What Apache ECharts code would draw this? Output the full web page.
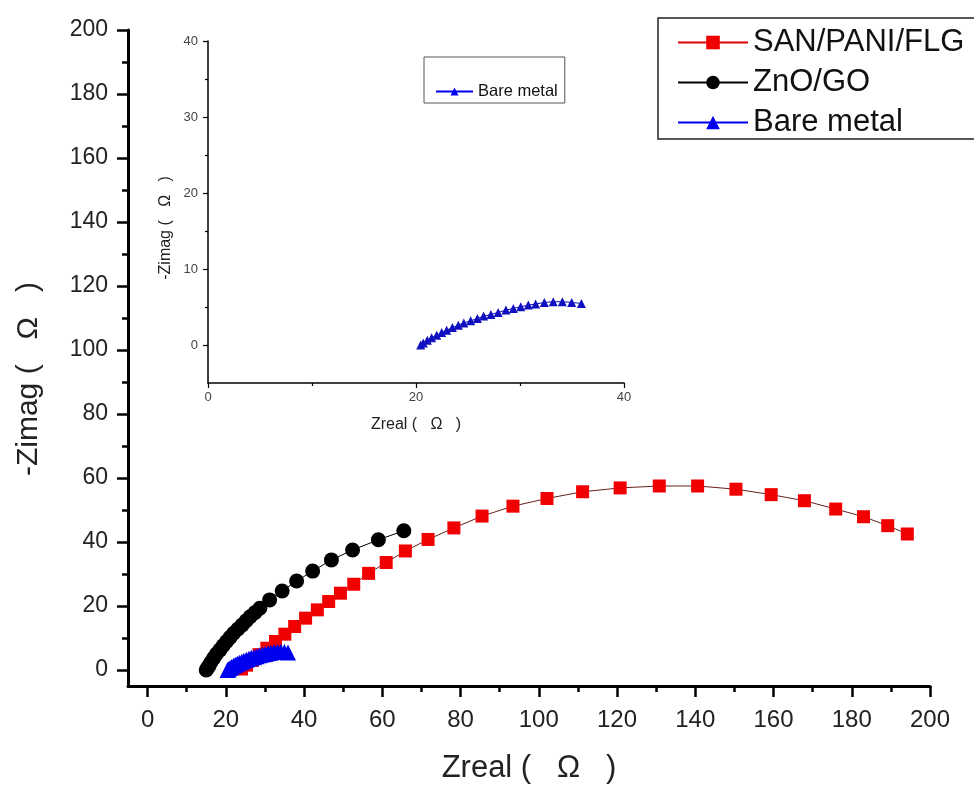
<!DOCTYPE html>
<html>
<head>
<meta charset="utf-8">
<script src="https://cdn.jsdelivr.net/npm/echarts@6/dist/echarts.min.js"></script>
<style>
  html, body { margin: 0; padding: 0; background: #fff; }
  #chart { width: 974px; height: 789px; }
</style>
</head>
<body>
<div id="chart"></div>
<script>
// SAN/PANI/FLG (red squares)
var sanZreal = [24.0, 25.3, 26.8, 28.5, 30.5, 32.7, 35.1, 37.6, 40.4, 43.4, 46.3, 49.3, 52.7, 56.5, 61.0, 65.9, 71.7, 78.3, 85.5, 93.4, 102.1, 111.2, 120.8, 130.8, 140.6, 150.4, 159.4, 167.9, 175.9, 183.0, 189.2, 194.2];
var sanZimag = [0.3, 1.5, 3.0, 4.8, 6.8, 8.9, 11.2, 13.6, 16.2, 18.8, 21.4, 24.0, 26.8, 30.2, 33.6, 37.2, 40.8, 44.4, 48.1, 51.2, 53.6, 55.7, 56.9, 57.5, 57.5, 56.5, 54.8, 52.9, 50.3, 47.9, 45.1, 42.5];

// ZnO/GO (black circles)
var znoZreal = [15.0, 15.3, 15.7, 16.2, 16.9, 17.6, 18.5, 19.3, 20.2, 21.1, 22.0, 23.1, 24.2, 25.2, 26.3, 27.5, 28.7, 31.2, 34.4, 38.1, 42.2, 47.0, 52.4, 59.0, 65.5];
var znoZimag = [0.0, 0.6, 1.3, 2.4, 3.7, 5.0, 6.3, 7.6, 8.9, 10.2, 11.5, 12.8, 14.1, 15.4, 16.7, 18.0, 19.3, 21.9, 24.7, 27.8, 30.9, 34.4, 37.5, 40.7, 43.5];

// Bare metal (blue triangles), same data in main plot and inset
var bareZreal = [20.45, 20.7, 21.09, 21.5, 21.99, 22.47, 22.95, 23.5, 24.07, 24.6, 25.26, 25.9, 26.5, 27.2, 27.9, 28.65, 29.36, 30.07, 30.8, 31.5, 32.34, 33.2, 34.07, 34.97, 35.9];
var bareZimag = [0.0, 0.26, 0.62, 0.97, 1.29, 1.63, 1.95, 2.29, 2.6, 2.91, 3.18, 3.48, 3.8, 4.01, 4.28, 4.59, 4.81, 5.03, 5.26, 5.39, 5.6, 5.7, 5.7, 5.6, 5.47];

// tick values
var mainTicks = [0, 20, 40, 60, 80, 100, 120, 140, 160, 180, 200];
var mainMinorTicks = [10, 30, 50, 70, 90, 110, 130, 150, 170, 190];
var insetYTicks = [0, 10, 20, 30, 40];
var insetYMinorTicks = [5, 15, 25, 35];

var FONT = '"Liberation Sans", Arial, sans-serif';

function pairs(xs, ys) {
  return xs.map(function (x, i) { return [x, ys[i]]; });
}

// extra axis used only to draw the short minor ticks
function minorAxis(grid, min, max, pos, ticks, len, width) {
  return {
    gridIndex: grid, type: 'value', min: min, max: max, position: pos,
    axisLine: { show: false, onZero: false },
    axisTick: { customValues: ticks, length: len, lineStyle: { color: '#000', width: width } },
    axisLabel: { show: false },
    splitLine: { show: false }
  };
}

var chart = echarts.init(document.getElementById('chart'));

var opt = {
  animation: false,
  backgroundColor: '#fff',
  grid: [
    { left: 128, right: 44, top: 30, bottom: 101 },
    { left: 208, top: 41, width: 416, height: 342 }
  ],
  legend: [{
    left: 658, top: 18, orient: 'vertical', selectedMode: false,
    data: [
      { name: 'SAN/PANI/FLG', lineStyle: { color: '#e00000' } },
      'ZnO/GO',
      'Bare metal'
    ],
    itemWidth: 70, itemHeight: 17, itemGap: 7,
    padding: [8, 30, 0, 19],
    borderColor: '#222', borderWidth: 1.5,
    textStyle: { fontSize: 31, lineHeight: 33, color: '#111', fontFamily: FONT }
  }, {
    left: 424, top: 57, orient: 'vertical', selectedMode: false,
    data: ['Bare metal'],
    itemWidth: 37, itemHeight: 10,
    padding: [26, 7, 3, 11],
    borderColor: '#555', borderWidth: 1,
    textStyle: { fontSize: 16.5, color: '#111', fontFamily: FONT }
  }],
  xAxis: [{
    gridIndex: 0, type: 'value', min: -5, max: 200, position: 'bottom',
    axisLine: { onZero: false, lineStyle: { color: '#000', width: 3 } },
    axisTick: { customValues: mainTicks, length: 11, lineStyle: { color: '#000', width: 2.5 } },
    axisLabel: { customValues: mainTicks, fontSize: 24, color: '#222', margin: 22, fontFamily: FONT },
    splitLine: { show: false },
    name: 'Zreal (   Ω   )', nameLocation: 'middle', nameGap: 67,
    nameTextStyle: { fontSize: 31, color: '#222', fontFamily: FONT }
  },
  minorAxis(0, -5, 200, 'bottom', mainMinorTicks, 6, 2.5),
  {
    gridIndex: 1, type: 'value', min: 0, max: 40, interval: 20, position: 'bottom',
    axisLine: { onZero: false, lineStyle: { color: '#000', width: 1.5 } },
    axisTick: { length: 5, lineStyle: { color: '#000', width: 1.2 } },
    minorTick: { show: true, splitNumber: 2, length: 3, lineStyle: { color: '#000', width: 1.2 } },
    axisLabel: { fontSize: 13, color: '#444', margin: 8, fontFamily: FONT },
    splitLine: { show: false },
    name: 'Zreal (   Ω   )', nameLocation: 'middle', nameGap: 34,
    nameTextStyle: { fontSize: 16, color: '#222', fontFamily: FONT }
  }],
  yAxis: [{
    gridIndex: 0, type: 'value', min: -5, max: 200, position: 'left',
    axisLine: { onZero: false, lineStyle: { color: '#000', width: 3 } },
    axisTick: { customValues: mainTicks, length: 11, lineStyle: { color: '#000', width: 2.5 } },
    axisLabel: { customValues: mainTicks, fontSize: 23, color: '#222', margin: 20, fontFamily: FONT },
    splitLine: { show: false },
    name: '-Zimag (   Ω   )', nameLocation: 'middle', nameGap: 84,
    nameTextStyle: { fontSize: 30, color: '#222', fontFamily: FONT, padding: [0, 42, 0, 0] }
  },
  minorAxis(0, -5, 200, 'left', mainMinorTicks, 6, 2.5),
  {
    gridIndex: 1, type: 'value', min: -5, max: 40, position: 'left',
    axisLine: { onZero: false, lineStyle: { color: '#000', width: 1.5 } },
    axisTick: { customValues: insetYTicks, length: 5, lineStyle: { color: '#000', width: 1.2 } },
    axisLabel: { customValues: insetYTicks, fontSize: 13, color: '#444', margin: 10, fontFamily: FONT },
    splitLine: { show: false },
    name: '-Zimag (   Ω   )', nameLocation: 'middle', nameGap: 34,
    nameTextStyle: { fontSize: 16, color: '#222', fontFamily: FONT, padding: [0, 32, 0, 0] }
  },
  minorAxis(1, -5, 40, 'left', insetYMinorTicks, 3, 1.2)],
  series: [{
    name: 'SAN/PANI/FLG', type: 'line', xAxisIndex: 0, yAxisIndex: 0,
    data: pairs(sanZreal, sanZimag),
    symbol: 'rect', symbolSize: 13,
    itemStyle: { color: '#f00000' },
    lineStyle: { color: '#6a2020', width: 1 }
  }, {
    name: 'ZnO/GO', type: 'line', xAxisIndex: 0, yAxisIndex: 0,
    data: pairs(znoZreal, znoZimag),
    symbol: 'circle', symbolSize: 15,
    itemStyle: { color: '#000' },
    lineStyle: { color: '#000', width: 1 }
  }, {
    name: 'Bare metal', type: 'line', xAxisIndex: 0, yAxisIndex: 0,
    data: pairs(bareZreal, bareZimag),
    symbol: 'triangle', symbolSize: 16,
    itemStyle: { color: '#0000f0' },
    lineStyle: { color: '#0000f0', width: 1 }
  }, {
    name: 'Bare metal', type: 'line', xAxisIndex: 2, yAxisIndex: 2,
    data: pairs(bareZreal, bareZimag),
    symbol: 'triangle', symbolSize: 9,
    itemStyle: { color: '#1010c0' },
    lineStyle: { color: '#1010c0', width: 1 }
  }]
};

chart.setOption(opt);
</script>
</body>
</html>
